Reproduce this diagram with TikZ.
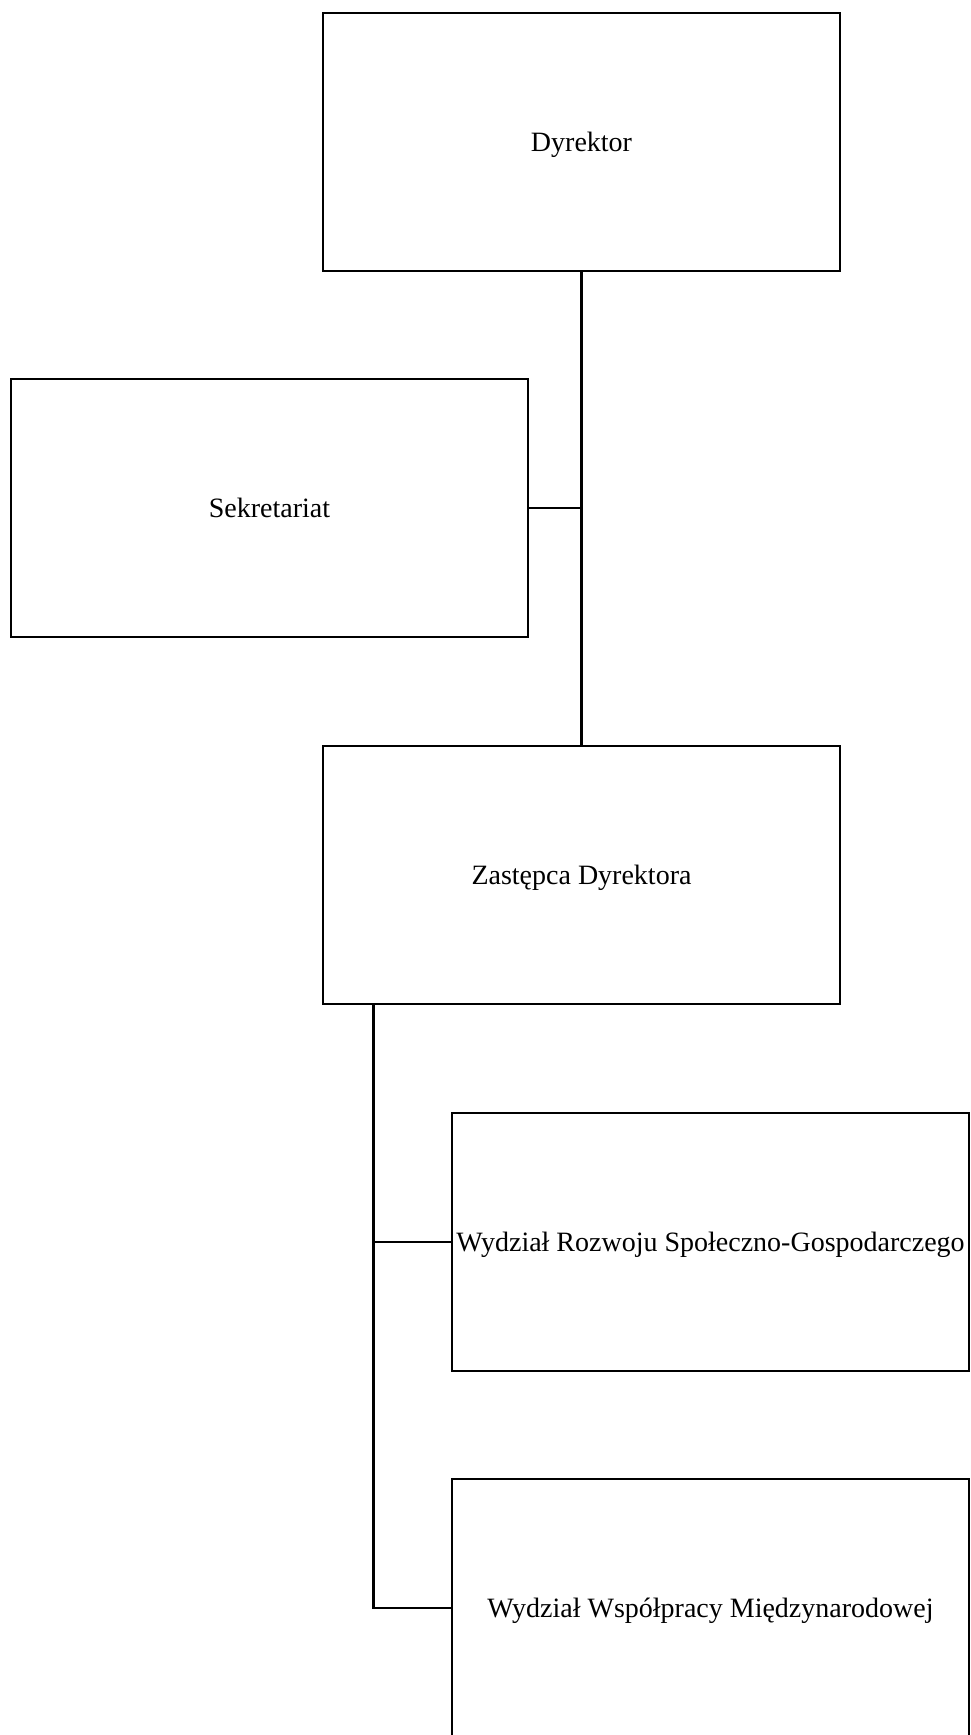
\documentclass[tikz,border=0pt]{standalone}
\usepackage{fontspec}
\setmainfont{Liberation Serif}
\begin{document}
\begin{tikzpicture}[x=1pt,y=-1pt,
  orgbox/.style={draw=black, line width=2.6pt, rectangle, minimum width=517pt, minimum height=258pt, inner sep=0pt, text depth=0pt, font=\fontsize{28}{34}\selectfont, fill=white},
  conn/.style={draw=black, line width=2.6pt}]
\useasboundingbox (0,0) rectangle (970,1735);
\clip (0,0) rectangle (970,1735);
\node[orgbox] (dyr) at (581.5,142) {Dyrektor};
\node[orgbox] (sek) at (269.5,508) {Sekretariat};
\node[orgbox] (zas) at (581.5,875) {Zastępca Dyrektora};
\node[orgbox] (wr) at (710.5,1242) {Wydział Rozwoju Społeczno-Gospodarczego};
\node[orgbox] (ww) at (710.5,1608) {Wydział Współpracy Międzynarodowej};
\coordinate (zb) at ([xshift=52pt]zas.south west);
\draw[conn] (dyr.south) -- (zas.north);
\draw[conn] (sek.east) -- (dyr.south |- sek.east);
\draw[conn] (zb) |- (ww.west);
\draw[conn] (wr.west) -- (zb |- wr.west);
\end{tikzpicture}
\end{document}
